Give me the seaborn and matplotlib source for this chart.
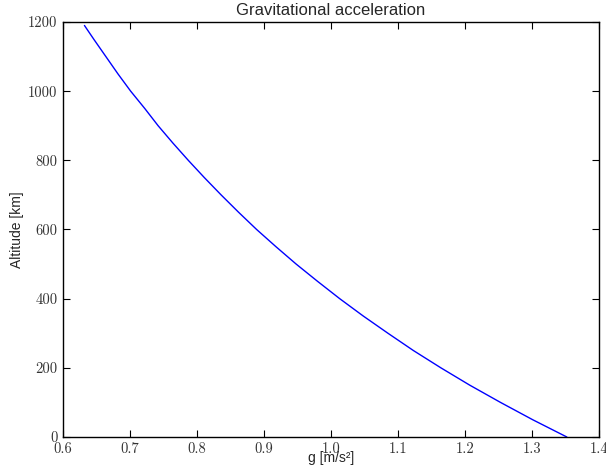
import matplotlib
matplotlib.use("Agg")
import matplotlib.pyplot as plt
import seaborn as sns
import pandas as pd

# Surface gravity vs altitude (Titan-like body)
altitude_km = [0, 50, 100, 150, 200, 250, 300, 350, 400, 450, 500, 550, 600,
               650, 700, 750, 800, 850, 900, 950, 1000, 1050, 1100, 1150, 1190]
g_ms2 = [1.352, 1.301, 1.253, 1.207, 1.164, 1.123, 1.085, 1.048, 1.013, 0.980,
         0.948, 0.918, 0.889, 0.862, 0.836, 0.811, 0.787, 0.764, 0.742, 0.722,
         0.701, 0.682, 0.664, 0.646, 0.632]

x_ticks = [0.6, 0.7, 0.8, 0.9, 1.0, 1.1, 1.2, 1.3, 1.4]
y_ticks = [0, 200, 400, 600, 800, 1000, 1200]

sns.set_style("ticks")
plt.rcParams["font.family"] = ["Liberation Sans", "DejaVu Sans"]
plt.rcParams["xtick.direction"] = "in"
plt.rcParams["ytick.direction"] = "in"

df = pd.DataFrame({"g": g_ms2, "alt": altitude_km})

fig = plt.figure(figsize=(6.06, 4.72), dpi=100)
ax = fig.add_axes([63 / 606, 1 - 437 / 472, (599 - 63) / 606, (437 - 22) / 472])

sns.lineplot(data=df, x="g", y="alt", ax=ax, color="#0000ff", linewidth=1.0, sort=False)

ax.set_xlim(0.6, 1.4)
ax.set_ylim(0, 1200)
ax.set_xticks(x_ticks)
ax.set_yticks(y_ticks)
ax.set_xticklabels([f"{v:.1f}" for v in x_ticks], fontfamily="cmr10", fontsize=10.5, color="#333333")
ax.set_yticklabels([str(v) for v in y_ticks], fontfamily="cmr10", fontsize=10.5, color="#333333")
ax.tick_params(top=True, right=True, length=5, width=0.8, color="black", pad=4)
for s in ax.spines.values():
    s.set_visible(True)
    s.set_color("black")
    s.set_linewidth(1.0)

ax.set_title("Gravitational acceleration", fontsize=12, pad=5)
ax.set_xlabel("g [m/s²]", fontsize=10, labelpad=-4)
ax.set_ylabel("Altitude [km]", fontsize=10, labelpad=3)

fig.savefig("out.png", dpi=100, facecolor="white")
